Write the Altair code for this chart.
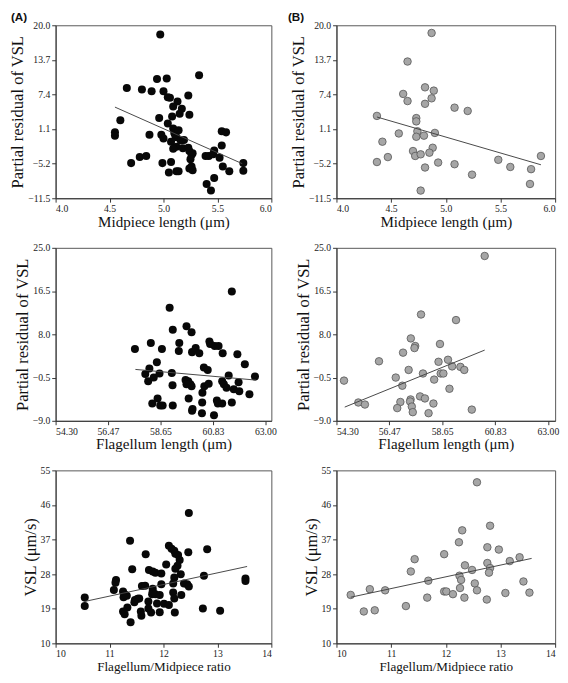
import altair as alt
import pandas as pd

# ---------------- data ----------------
# Panel A, row 1: Midpiece length vs partial residual of VSL
a1_x = [4.97, 5.33, 4.94, 5.03, 4.66, 4.80, 4.89, 5.00, 5.04, 5.06, 5.23, 5.13, 5.09, 5.17,
        5.15, 5.24, 5.08, 4.96, 4.60, 5.04, 4.55, 4.55, 4.87, 4.98, 5.00, 5.09, 5.10, 5.11,
        5.12, 5.07, 5.12, 5.19, 5.18, 5.23, 5.24, 5.27, 5.26, 5.25, 5.39, 5.42, 5.46, 5.47,
        5.54, 5.58, 5.54, 5.52, 5.55, 5.47, 5.40, 5.44, 5.61, 5.74, 5.74, 5.26, 5.27, 5.24,
        5.12, 5.14, 5.05, 4.99, 5.07, 4.70, 4.78, 4.84, 5.09, 5.16, 5.14]
a1_y = [18.3, 10.9, 10.2, 10.3, 8.6, 8.3, 8.0, 8.0, 6.9, 6.8, 7.2, 6.1, 5.2, 4.8,
        3.9, 3.7, 3.4, 3.1, 2.7, 2.1, 0.5, -0.1, 0.05, 0.05, -0.6, 1.2, 0.4, -0.1,
        -0.4, -1.2, -2.1, -0.9, -2.4, -2.3, -2.9, -3.3, -3.6, -4.4, -3.8, -3.8, -3.5, -2.8,
        0.7, 0.5, -1.9, -4.1, -5.7, -7.8, -8.9, -10.1, -6.6, -5.1, -6.5, -5.7, -6.4, -6.1,
        -6.6, -6.6, -6.8, -5.1, -4.9, -5.1, -4.0, -3.8, -2.5, -1.0, 0.9]
a1_line_x = [4.55, 5.73]
a1_line_y = [5.1, -5.2]

# Panel B, row 1
b1_x = [4.87, 4.65, 4.61, 4.65, 4.81, 4.89, 4.87, 4.81, 5.08, 5.20, 4.37, 4.73, 4.73, 4.74,
        4.73, 4.57, 4.80, 4.90, 4.42, 4.88, 4.70, 4.85, 4.72, 4.77, 4.47, 4.37, 4.93, 4.81,
        5.08, 5.24, 4.77, 5.48, 5.59, 5.78, 5.77, 5.87]
b1_y = [18.6, 13.4, 7.5, 6.2, 8.7, 8.1, 6.7, 5.7, 5.0, 4.4, 3.5, 3.1, 2.5, 0.7,
        -0.3, 0.3, -0.1, 0.4, -1.2, -2.3, -2.9, -3.2, -3.8, -3.5, -4.0, -4.9, -5.0, -5.9,
        -5.3, -7.2, -10.1, -4.5, -5.8, -6.2, -8.9, -3.8]
b1_line_x = [4.37, 5.87]
b1_line_y = [3.3, -5.4]

# Panel A, row 2: Flagellum length
a2_x = [57.59, 58.25, 59.03, 59.16, 59.43, 59.41, 59.73, 59.94, 59.96, 60.11, 60.26, 60.68,
        60.71, 60.90, 61.06, 61.23, 61.61, 61.84, 62.15, 62.57, 58.71, 58.50, 58.19, 58.02,
        58.14, 58.37, 58.61, 59.12, 59.15, 60.45, 60.61, 59.69, 59.80, 59.89, 59.94, 59.73,
        60.39, 60.47, 60.65, 61.21, 61.28, 61.48, 61.39, 61.69, 61.89, 61.92, 62.34, 58.53,
        58.31, 58.64, 58.74, 59.16, 59.82, 59.98, 59.96, 60.38, 60.37, 60.87, 60.99, 61.03,
        61.21, 61.61]
a2_y = [5.1, 6.3, 13.2, 8.9, 6.3, 4.7, 9.6, 8.4, 4.5, 5.3, 4.3, 6.6,
        6.1, 5.7, 5.7, 4.3, 16.4, 4.1, 2.1, -0.3, 5.1, 2.5, 1.3, 0.2,
        -1.2, -0.5, 0.3, 0.4, -2.0, 1.5, 1.0, -1.0, -1.2, -1.8, -2.2, -1.8,
        -3.5, -2.2, -1.7, -1.2, -1.8, -0.1, -2.5, -2.8, -1.4, -3.2, -3.8, -4.6,
        -5.6, -6.0, -6.0, -6.0, -4.6, -6.7, -7.0, -5.4, -7.5, -7.9, -5.0, -5.6,
        -5.6, -5.4]
a2_line_x = [57.61, 62.62]
a2_line_y = [1.1, -1.0]

# Panel B, row 2
b2_x = [60.40, 57.78, 59.22, 57.36, 57.54, 57.51, 58.56, 57.04, 56.05, 58.50, 58.89, 59.06,
        59.40, 59.56, 57.27, 57.86, 58.59, 58.70, 56.74, 58.32, 54.61, 57.01, 58.95, 57.74,
        57.94, 57.35, 57.33, 56.93, 58.29, 55.20, 55.47, 57.40, 56.80, 57.44, 58.09, 59.87]
b2_y = [23.4, 11.9, 10.8, 7.2, 5.7, 5.3, 6.1, 4.4, 2.7, 2.6, 3.0, 1.7,
        1.6, 1.0, 1.0, 0.3, 0.3, 0.3, -0.5, -0.9, -1.1, -2.1, -2.7, -4.2,
        -4.6, -4.8, -5.2, -5.3, -5.6, -5.4, -5.8, -6.2, -6.5, -7.3, -7.5, -6.8]
b2_line_x = [54.64, 60.40]
b2_line_y = [-6.3, 4.9]

# Panel A, row 3: Flagellum/Midpiece ratio vs VSL
a3_x = [12.47, 11.38, 12.10, 12.15, 12.20, 12.22, 12.27, 12.46, 12.81, 11.67, 12.30, 12.26,
        12.22, 12.05, 11.42, 11.73, 11.80, 11.85, 11.96, 12.32, 12.20, 12.75, 13.52, 13.52,
        11.12, 11.11, 11.08, 12.18, 11.96, 12.38, 12.44, 12.47, 11.60, 11.66, 11.80, 11.80,
        11.25, 11.28, 11.26, 11.32, 11.79, 11.85, 11.93, 12.18, 12.33, 12.20, 11.47, 11.52,
        11.55, 11.46, 11.72, 11.88, 12.01, 12.10, 10.54, 10.54, 11.33, 11.72, 11.25, 11.28,
        11.58, 11.59, 11.77, 11.93, 12.21, 11.39, 12.73, 13.05]
a3_y = [43.9, 36.7, 35.4, 34.6, 34.1, 33.3, 33.0, 33.7, 34.5, 33.2, 31.7, 30.2,
        29.4, 30.5, 29.3, 29.1, 28.7, 28.4, 28.2, 28.0, 27.1, 27.6, 26.9, 26.2,
        26.5, 25.8, 23.9, 25.6, 25.4, 25.6, 25.4, 24.8, 24.9, 25.0, 24.2, 23.5,
        23.5, 22.8, 22.0, 22.4, 22.8, 22.8, 22.6, 23.2, 22.6, 21.7, 21.3, 21.6,
        21.7, 20.7, 20.9, 20.4, 20.3, 20.0, 21.9, 19.7, 19.3, 19.1, 18.3, 17.6,
        18.3, 17.2, 18.0, 18.1, 18.0, 15.5, 19.1, 18.5]
a3_line_x = [10.54, 13.55]
a3_line_y = [20.9, 30.0]

# Panel B, row 3
b3_x = [12.57, 12.30, 12.81, 12.24, 12.76, 12.97, 11.43, 11.97, 13.35, 13.17, 12.76, 12.35,
        12.81, 12.48, 12.79, 11.36, 12.25, 12.28, 11.68, 13.42, 12.53, 13.53, 13.09, 12.57,
        12.26, 11.97, 12.01, 12.13, 12.34, 11.66, 12.75, 10.26, 10.61, 10.89, 11.27, 10.50,
        10.70]
b3_y = [51.9, 39.4, 40.6, 36.3, 35.0, 34.4, 31.9, 33.2, 32.4, 31.4, 30.9, 30.3,
        29.6, 29.1, 28.4, 28.7, 27.6, 26.5, 26.3, 26.1, 25.6, 23.2, 23.1, 23.8,
        24.4, 23.5, 23.5, 22.8, 21.9, 21.9, 21.4, 22.6, 24.1, 23.8, 19.7, 18.3,
        18.6]
b3_line_x = [10.26, 13.57]
b3_line_y = [22.0, 32.1]

panel_labels = ["(A)", "(B)"]

# axis settings
ticks_mid = [4.0, 4.5, 5.0, 5.5, 6.0]
ticks_res1 = [20.0, 13.7, 7.4, 1.1, -5.2, -11.5]
ticks_flag = [54.30, 56.47, 58.65, 60.83, 63.00]
ticks_res2 = [25.0, 16.5, 8.0, -0.5, -9.0]
ticks_ratio = [10, 11, 12, 13, 14]
ticks_vsl = [10, 19, 28, 37, 46, 55]

YT_RES = "Partial residual of  VSL"
YT_VSL = "VSL (\u03bcm/s)"
SERIF = "Liberation Serif"


def panel(xs, ys, lx, ly, xdom, xticks, xfmt, ydom, yticks, yfmt, xtitle, ytitle,
          gray, width, height=178, label=None, label_dx=-46, xts=15.5):
    pts_df = pd.DataFrame({"x": xs, "y": ys})
    ln_df = pd.DataFrame({"x": lx, "y": ly})
    xenc = alt.X("x:Q", scale=alt.Scale(domain=xdom, nice=False, zero=False),
                 axis=alt.Axis(values=xticks, format=xfmt, title=xtitle, titleFontSize=xts,
                               labelFont=SERIF, titleFont=SERIF))
    yenc = alt.Y("y:Q", scale=alt.Scale(domain=ydom, nice=False, zero=False),
                 axis=alt.Axis(values=yticks, format=yfmt, title=ytitle,
                               labelFont=SERIF, titleFont=SERIF))
    if gray:
        pts = alt.Chart(pts_df).mark_point(filled=True, size=60, fill="#a6a6a6",
                                           stroke="#555555", strokeWidth=0.8, opacity=1)
    else:
        pts = alt.Chart(pts_df).mark_point(filled=True, size=68, color="#080808", opacity=1)
    pts = pts.encode(x=xenc, y=yenc)
    line = alt.Chart(ln_df).mark_line(color="#444444", strokeWidth=1).encode(x=xenc, y=yenc)
    layers = [pts, line]
    if label:
        lab = alt.Chart(pd.DataFrame({"t": [label]})).mark_text(
            font="Liberation Sans", fontSize=12, fontWeight="bold", align="left",
            baseline="middle", color="#111111"
        ).encode(x=alt.value(label_dx), y=alt.value(-8.5), text="t:N")
        layers.append(lab)
    return alt.layer(*layers).properties(width=width, height=height)


WA = 222
WB = 225
XT_MID = "Midpiece length (\u03bcm)"
XT_FLAG = "Flagellum length (\u03bcm)"
XT_RATIO = "Flagellum/Midpiece ratio"

p1 = panel(a1_x, a1_y, a1_line_x, a1_line_y, [4.0, 6.0], ticks_mid, ".1f",
           [-11.5, 20.0], ticks_res1, ".1f", XT_MID, YT_RES, False, WA,
           label=panel_labels[0], label_dx=-46)
p2 = panel(b1_x, b1_y, b1_line_x, b1_line_y, [4.0, 6.0], ticks_mid, ".1f",
           [-11.5, 20.0], ticks_res1, ".1f", XT_MID, YT_RES, True, WB,
           label=panel_labels[1], label_dx=-50)
p3 = panel(a2_x, a2_y, a2_line_x, a2_line_y, [54.30, 63.25], ticks_flag, ".2f",
           [-9.0, 25.0], ticks_res2, ".1f", XT_FLAG, YT_RES, False, WA)
p4 = panel(b2_x, b2_y, b2_line_x, b2_line_y, [54.30, 63.30], ticks_flag, ".2f",
           [-9.0, 25.0], ticks_res2, ".1f", XT_FLAG, YT_RES, True, WB)
p5 = panel(a3_x, a3_y, a3_line_x, a3_line_y, [10, 14], ticks_ratio, "d",
           [10, 55], ticks_vsl, "d", XT_RATIO, YT_VSL, False, WA, xts=13.5)
p6 = panel(b3_x, b3_y, b3_line_x, b3_line_y, [10, 14], ticks_ratio, "d",
           [10, 55], ticks_vsl, "d", XT_RATIO, YT_VSL, True, WB, xts=13.5)

chart = alt.concat(p1, p2, p3, p4, p5, p6, columns=2,
                   spacing={"row": 12, "column": 10}).properties(
    padding={"top": -7, "left": 0, "right": 0, "bottom": 0}, background="white"
).configure(font=SERIF).configure_axis(
    labelFont=SERIF, titleFont=SERIF,
    labelFontSize=10, titleFontSize=17, titleFontWeight="normal",
    labelColor="#222222", titleColor="#111111",
    domainColor="#333333", tickColor="#333333", tickSize=4,
    labelPadding=2, titlePadding=1, grid=False
).configure_view(stroke="#555555", strokeWidth=1)

chart.save("out.html", embed_options={"renderer": "svg", "actions": False})
